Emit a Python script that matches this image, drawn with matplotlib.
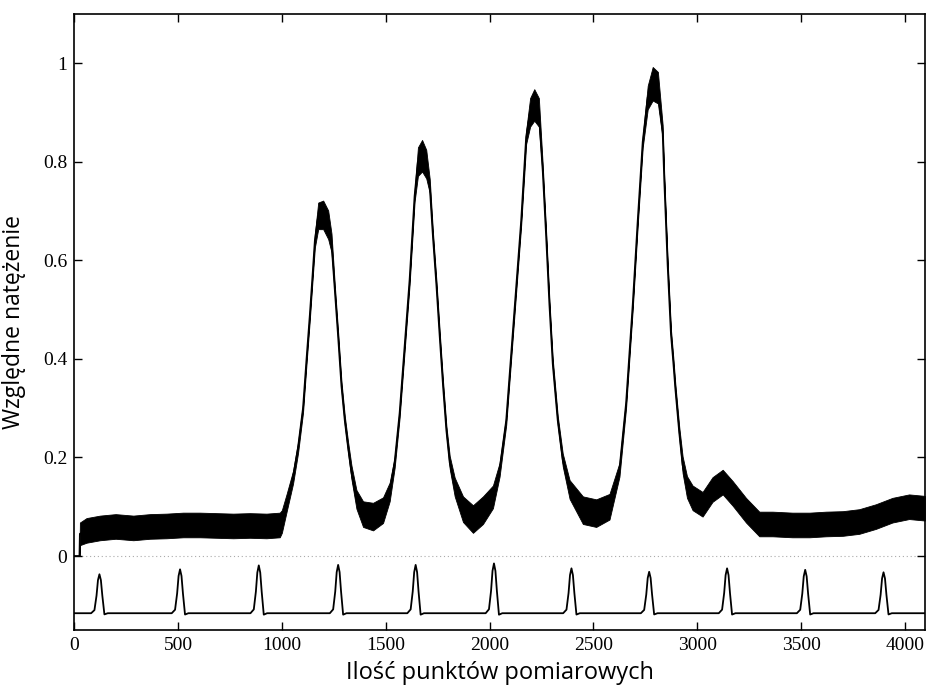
import matplotlib
matplotlib.use("Agg")
import matplotlib.pyplot as plt
import numpy as np

# ---- main spectrum: band (centre and half-spread of the noise)
sig_x = [0, 26, 28, 60, 125, 200, 285, 365, 445, 525, 606, 686, 766, 846, 926, 990,
         1000, 1023, 1054, 1078, 1102, 1119, 1135, 1148, 1159, 1175, 1199, 1223, 1239,
         1255, 1271, 1287, 1303, 1319, 1335, 1359, 1391, 1439, 1487, 1519, 1543, 1567,
         1591, 1615, 1639, 1655, 1675, 1695, 1712, 1727, 1744, 1760, 1776, 1792, 1808,
         1832, 1872, 1920, 1968, 2016, 2048, 2080, 2104, 2128, 2152, 2176, 2195, 2215,
         2237, 2256, 2272, 2288, 2304, 2328, 2352, 2385, 2449, 2513, 2577, 2625, 2657,
         2689, 2713, 2737, 2761, 2785, 2810, 2833, 2841, 2857, 2873, 2884, 2894, 2913, 2929,
         2950, 2977, 3025, 3073, 3122, 3170, 3234, 3298, 3362, 3457, 3540, 3619, 3700, 3779,
         3859, 3939, 4019, 4095]
sig_mid = [0.0, 0.0, 0.045, 0.052, 0.057, 0.060, 0.057, 0.060, 0.061, 0.063, 0.063, 0.062,
           0.061, 0.062, 0.061, 0.063,
           0.070, 0.108, 0.160, 0.220, 0.300, 0.400, 0.490, 0.570, 0.640, 0.690, 0.692,
           0.672, 0.635,
           0.540, 0.445, 0.345, 0.275, 0.220, 0.170, 0.115, 0.085, 0.080, 0.093, 0.130,
           0.190, 0.290,
           0.425, 0.560, 0.730, 0.800, 0.812, 0.795, 0.750, 0.650, 0.550, 0.445, 0.345,
           0.255, 0.190,
           0.140, 0.095, 0.075, 0.093, 0.120, 0.175, 0.275, 0.410, 0.545, 0.680, 0.850,
           0.900, 0.915,
           0.900, 0.780, 0.650, 0.510, 0.390, 0.275, 0.195, 0.135, 0.093, 0.087, 0.100,
           0.175, 0.310,
           0.510, 0.680, 0.840, 0.930, 0.958, 0.950, 0.860, 0.760, 0.590, 0.450, 0.395, 0.340,
           0.250, 0.185,
           0.140, 0.118, 0.105, 0.135, 0.150, 0.127, 0.093, 0.065, 0.065, 0.063, 0.063, 0.065,
           0.066, 0.070,
           0.080, 0.093, 0.100, 0.097]
sig_spread = [0.0, 0.0, 0.023, 0.025, 0.025, 0.025, 0.025, 0.025, 0.025, 0.025, 0.025, 0.025,
              0.025, 0.025, 0.025, 0.025,
              0.023, 0.018, 0.013, 0.011, 0.009, 0.009, 0.009, 0.009, 0.014, 0.027, 0.029,
              0.029, 0.019,
              0.009, 0.009, 0.009, 0.009, 0.011, 0.014, 0.019, 0.026, 0.028, 0.026, 0.019,
              0.011, 0.009,
              0.009, 0.009, 0.011, 0.029, 0.032, 0.029, 0.014, 0.009, 0.009, 0.009, 0.009,
              0.009, 0.013,
              0.019, 0.026, 0.028, 0.028, 0.023, 0.014, 0.009, 0.009, 0.009, 0.009, 0.014,
              0.029, 0.032,
              0.029, 0.011, 0.009, 0.009, 0.009, 0.009, 0.013, 0.019, 0.028, 0.028, 0.026,
              0.014, 0.009,
              0.009, 0.009, 0.011, 0.024, 0.034, 0.032, 0.014, 0.009, 0.009, 0.009, 0.009, 0.009,
              0.011, 0.017,
              0.022, 0.025, 0.025, 0.025, 0.025, 0.025, 0.025, 0.025, 0.025, 0.025, 0.025, 0.025,
              0.025, 0.025,
              0.025, 0.025, 0.025, 0.025]

# ---- lower reference trace (periodic marker peaks)
mark_x = [122, 510, 889, 1271, 1644, 2021, 2394, 2768, 3143, 3519, 3896]
mark_top = [-0.037, -0.027, -0.019, -0.018, -0.018, -0.015, -0.025, -0.032, -0.025, -0.028, -0.033]
mark_base = -0.116
# shape of one marker peak: offsets (points) and fraction of height
mark_off = [-40, -24, -14, -7, 0, 7, 14, 24, 40]
mark_frac = [0.0, 0.08, 0.45, 0.85, 1.0, 0.85, 0.45, -0.03, 0.0]

x_ticks = [0, 500, 1000, 1500, 2000, 2500, 3000, 3500, 4000]
y_ticks = [0, 0.2, 0.4, 0.6, 0.8, 1.0]
y_ticklabels = ["0", "0.2", "0.4", "0.6", "0.8", "1"]

fig = plt.figure(figsize=(9.26, 6.87), dpi=100)
ax = fig.add_axes([0.080, 0.083, 0.919, 0.897])

sx = np.array(sig_x, float)
sm = np.array(sig_mid, float)
ss = np.array(sig_spread, float)
ax.fill_between(sx, sm - ss, sm + ss, color="black", linewidth=0.6, zorder=3)
ax.plot(sx, sm, color="black", linewidth=1.3, zorder=3, solid_joinstyle="round")

# lower trace
lx = [0.0]
ly = [mark_base]
for c, t in zip(mark_x, mark_top):
    h = t - mark_base
    for o, f in zip(mark_off, mark_frac):
        lx.append(c + o)
        ly.append(mark_base + f * h)
lx.append(4096.0)
ly.append(mark_base)
ax.plot(lx, ly, color="black", linewidth=1.3, zorder=3, solid_joinstyle="round")

ax.axhline(0, color="#aaaaaa", linestyle=(0, (1, 2.5)), linewidth=0.8, zorder=1)

ax.set_xlim(0, 4096)
ax.set_ylim(-0.15, 1.1)
ax.set_xticks(x_ticks)
ax.set_yticks(y_ticks)
ax.set_yticklabels(y_ticklabels)
for lab in ax.get_xticklabels() + ax.get_yticklabels():
    lab.set_fontfamily("Liberation Serif")
    lab.set_fontsize(14)
ax.tick_params(direction="in", length=5.5, width=1.0, top=True, right=True,
               labeltop=False, labelright=False, pad=5, colors="black")
for sp in ax.spines.values():
    sp.set_linewidth(1.2)

ax.set_xlabel("Ilość punktów pomiarowych", fontfamily="Open Sans", fontsize=17, labelpad=5)
ax.set_ylabel("Względne natężenie", fontfamily="Open Sans", fontsize=16.5, labelpad=12)

fig.savefig("out.png", dpi=100)
